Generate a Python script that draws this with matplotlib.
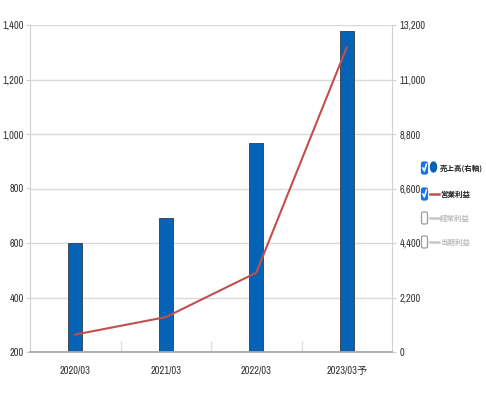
"""Sales (right axis, bars) and operating profit (left axis, line) by fiscal year."""
import matplotlib

matplotlib.use("Agg")
import matplotlib.pyplot as plt
import numpy as np
from matplotlib.lines import Line2D
from matplotlib.patches import Ellipse, FancyBboxPatch

# narrow latin face first, CJK face for 予 and the legend labels
plt.rcParams["font.family"] = ["Liberation Sans Narrow", "Archivo Narrow",
                               "Noto Sans CJK JP", "DejaVu Sans"]

W, H = 486, 397

periods = ["2020/03", "2021/03", "2022/03", "2023/03予"]
sales = [4390, 5420, 8420, 12950]          # 売上高 (right axis)
op_profit = [264, 328, 491, 1318]          # 営業利益 (left axis)
left_ticks = [200, 400, 600, 800, 1000, 1200, 1400]
right_ticks = [0, 2200, 4400, 6600, 8800, 11000, 13200]

legend_labels = ["売上高(右軸)", "営業利益", "経常利益", "当期利益"]
legend_checked = [True, True, False, False]

BAR = "#0563b5"
LINE = "#c0504d"
GRID = "#dadada"
TXT = "#333333"


def fx(px):
    return px / W


def fy(py):
    return 1 - py / H


fig = plt.figure(figsize=(W / 100, H / 100), dpi=100)
ax = fig.add_axes([fx(30), fy(352), (392 - 30) / W, (352 - 25) / H])
ax2 = ax.twinx()

x = np.arange(len(periods))

# bars on the right axis, drawn underneath the line
ax2.bar(x, sales, width=0.155, color=BAR, edgecolor="#414b56", linewidth=0.7, zorder=2)
ax2.set_ylim(0, 13200)
ax2.set_yticks(right_ticks)
ax2.set_yticklabels([f"{v:,}" for v in right_ticks])
ax2.grid(axis="y", color=GRID, linewidth=1, zorder=0)
ax2.set_axisbelow(True)

ax.plot(x, op_profit, color=LINE, linewidth=1.5, zorder=3)
ax.set_ylim(200, 1400)
ax.set_yticks(left_ticks)
ax.set_yticklabels([f"{v:,}" for v in left_ticks])
ax.set_xlim(-0.5, len(periods) - 0.5)
ax.set_xticks(x)
ax.set_xticklabels(periods)
ax.set_xticks([0.5, 1.5, 2.5], minor=True)

ax.set_zorder(ax2.get_zorder() + 1)
ax.patch.set_visible(False)

for s in ["top", "right"]:
    ax.spines[s].set_visible(False)
for s in ["top", "left", "bottom"]:
    ax2.spines[s].set_visible(False)
ax.spines["left"].set_color("#d0d0d0")
ax2.spines["right"].set_color("#d0d0d0")
ax.spines["bottom"].set_color("#a8a8a8")
ax.spines["bottom"].set_linewidth(1.3)

ax.tick_params(axis="y", length=3, color="#d0d0d0", labelsize=7.5, labelcolor=TXT, pad=1.5)
ax2.tick_params(axis="y", length=3, color="#d0d0d0", labelsize=7.5, labelcolor=TXT, pad=2.5)
ax.tick_params(axis="x", which="major", length=0, labelsize=7.5, labelcolor=TXT, pad=10)
ax.tick_params(axis="x", which="minor", direction="in", length=8, color="#e0e0e0", width=1)

# legend with checkboxes, drawn in figure pixel space
rows = [168, 194, 218, 242]
for i, (label, checked) in enumerate(zip(legend_labels, legend_checked)):
    yc = rows[i]
    box = FancyBboxPatch((fx(421.5), fy(yc + 6)), 6 / W, 12 / H,
                         boxstyle="round,pad=0,rounding_size=0.004",
                         transform=fig.transFigure,
                         facecolor="#1a73e8" if checked else "white",
                         edgecolor="#1a73e8" if checked else "#9a9a9a", linewidth=0.9)
    fig.add_artist(box)
    if checked:
        fig.add_artist(Line2D([fx(422.8), fx(424.3), fx(426.5)], [fy(yc), fy(yc + 3), fy(yc - 4)],
                              transform=fig.transFigure, color="white", linewidth=1.1))
    if i == 0:
        fig.add_artist(Ellipse((fx(433.5), fy(yc - 1)), 6 / W, 10 / H,
                               transform=fig.transFigure, color=BAR))
    else:
        fig.add_artist(Line2D([fx(430), fx(439)], [fy(yc), fy(yc)], transform=fig.transFigure,
                              color=LINE if checked else "#c8c8c8", linewidth=1.8))
    fig.text(fx(440), fy(yc), label, fontsize=5.4, va="center", ha="left",
             family=["Noto Sans CJK JP", "DejaVu Sans"],
             color="#222222" if checked else "#bdbdbd", fontweight="bold")

fig.savefig("out.png", dpi=100, facecolor="white")
